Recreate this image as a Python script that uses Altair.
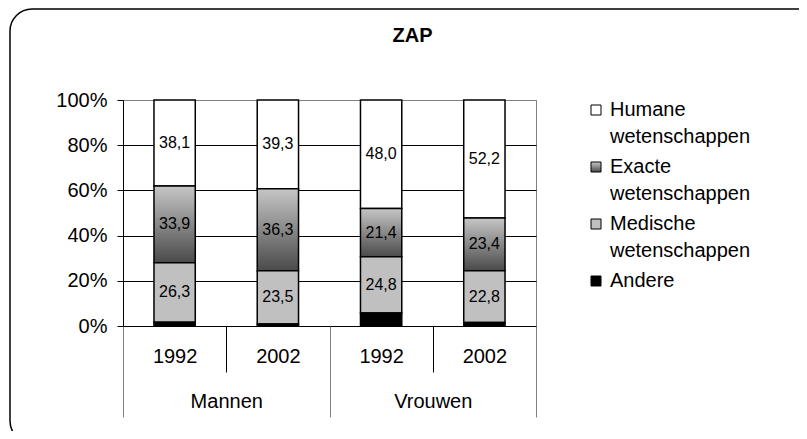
import altair as alt
import pandas as pd

# ---- data ----
groepen = ["Mannen", "Mannen", "Vrouwen", "Vrouwen"]
jaren = ["1992", "2002", "1992", "2002"]
vakken = ["Humane wetenschappen", "Exacte wetenschappen", "Medische wetenschappen", "Andere"]
humane = [38.1, 39.3, 48.0, 52.2]
exacte = [33.9, 36.3, 21.4, 23.4]
medische = [26.3, 23.5, 24.8, 22.8]
andere = [1.7, 0.9, 5.8, 1.6]
stapel_volgorde = [3, 2, 1, 0]  # Andere at the bottom, Humane on top
y_ticks = [0, 20, 40, 60, 80, 100]

reeksen = [humane, exacte, medische, andere]
rows = []
for i in range(len(groepen)):
    for v, vak in enumerate(vakken):
        rows.append({
            "groep": groepen[i],
            "jaar": jaren[i],
            "sleutel": groepen[i] + " " + jaren[i],
            "vak": vak,
            "waarde": reeksen[v][i],
            "volgorde": stapel_volgorde[v],
        })
df = pd.DataFrame(rows)
sleutels = [g + " " + j for g, j in zip(groepen, jaren)]
groep_namen = ["Mannen", "Vrouwen"]
groep_df = pd.DataFrame({"groep": groep_namen})

FONT = "Liberation Sans"
grad = ("{gradient: 'linear', x1: 0, y1: 0, x2: 0, y2: 1, "
        "stops: [{offset: 0, color: '#c6c6c6'}, {offset: 1, color: '#4a4a4a'}]}")

y_axis = alt.Axis(
    title=None, values=y_ticks, labelExpr="datum.value + '%'",
    grid=True,
    gridColor={"condition": {"test": "datum.value == 100", "value": "#808080"}, "value": "black"},
    tickSize=6, tickColor="black", domainColor="black",
    labelFontSize=20, labelPadding=10,
)

x_scale = alt.Scale(paddingInner=0, paddingOuter=0)
x_axis = alt.Axis(orient="bottom", title=None, labelAngle=0,
                  labelExpr="split(datum.label, ' ')[1]",
                  tickBand="extent", tickSize=46, tickColor="black",
                  labelPadding=-26, labelFontSize=20, domainColor="black", grid=False)
x_enc = alt.X("sleutel:N", sort=sleutels, scale=x_scale, axis=x_axis)

base = alt.Chart(df)

frame = alt.Chart(alt.Data(values=[{}])).mark_rect(
    fill="transparent", stroke="black", strokeWidth=1.5, cornerRadius=22
).encode(x=alt.value(-113), x2=alt.value(700), y=alt.value(-91), y2=alt.value(343))

bars = base.mark_bar(width={"band": 0.4}, stroke="black", strokeWidth=1.5).encode(
    x=x_enc,
    y=alt.Y("waarde:Q", stack="zero", scale=alt.Scale(domain=[0, 100]), axis=y_axis),
    color=alt.Color(
        "vak:N",
        scale=alt.Scale(domain=vakken, range=["white", {"expr": grad}, "#c0c0c0", "black"]),
        legend=alt.Legend(
            title=None, orient="none", legendX=463, legendY=0,
            symbolType="square", symbolSize=100, symbolStrokeColor="black",
            symbolStrokeWidth=1, labelFontSize=20, labelLimit=400, labelOffset=4,
            rowPadding=10, padding=0,
            labelExpr="datum.label == 'Andere' ? datum.label : split(datum.label, ' ')",
        ),
    ),
    order=alt.Order("volgorde:Q"),
)

labels = base.transform_stack(
    stack="waarde", groupby=["sleutel"], sort=[alt.SortField("volgorde")], as_=["y0", "y1"]
).transform_filter(
    "datum.vak != 'Andere'"
).transform_calculate(
    mid="(datum.y0 + datum.y1) / 2",
    tekst="replace(format(datum.waarde, '.1f'), '.', ',')",
).mark_text(font=FONT, fontSize=16, color="black", baseline="middle").encode(
    x=x_enc,
    y=alt.Y("mid:Q", axis=y_axis),
    text="tekst:N",
)

groep_layer = alt.Chart(groep_df).mark_bar(opacity=0).encode(
    x=alt.X("groep:N", sort=groep_namen, scale=alt.Scale(paddingInner=0, paddingOuter=0),
            axis=alt.Axis(orient="bottom", title=None, labelAngle=0, tickBand="extent",
                          tickSize=91, tickColor="#808080", labelPadding=-26,
                          labelFontSize=20, domain=False, grid=False)),
)

inner = alt.layer(frame, bars, labels)
chart = alt.layer(inner, groep_layer).resolve_scale(x="independent").properties(
    width=413, height=226,
    padding={"left": 115, "top": 92, "right": 263, "bottom": 105},
    autosize=alt.AutoSizeParams(type="none"),
    title=alt.TitleParams("ZAP", font=FONT, fontSize=20, fontWeight="bold", color="black",
                          anchor="middle", frame="group", dx=83, baseline="alphabetic",
                          offset=0, dy=54),
).configure(
    style={"guide-label": {"lineHeight": 27}},
    view={"stroke": "#808080", "strokeWidth": 1},
    axis={"labelFont": FONT, "labelColor": "black"},
    legend={"labelFont": FONT, "labelColor": "black"},
)

chart.save("out.html", embed_options={"renderer": "svg", "actions": False})
